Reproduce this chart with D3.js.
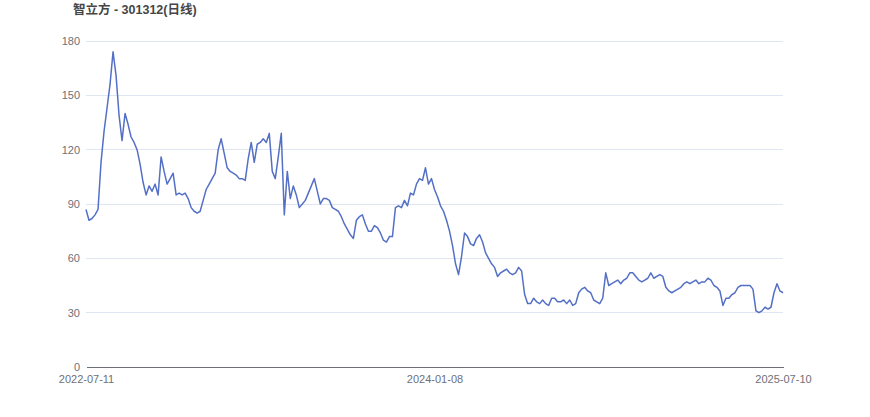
<!DOCTYPE html>
<html>
<head>
<meta charset="utf-8">
<script src="https://cdn.jsdelivr.net/npm/d3@7/dist/d3.min.js"></script>
<style>
  html, body { margin: 0; padding: 0; background: #fff; }
  svg { display: block; }
</style>
</head>
<body>
<svg id="chart" width="870" height="417"></svg>
<script>
const title = "智立方 - 301312(日线)";
const xTickLabels = ["2022-07-11", "2024-01-08", "2025-07-10"];
const yTicks = [0, 30, 60, 90, 120, 150, 180];
const closes = [
  87, 81, 82, 84, 87, 113, 130, 143, 156, 174,
  161, 139, 125, 140, 134, 127, 124, 120, 112, 102,
  95, 100, 97, 101, 95, 116, 108, 101, 104, 107,
  95, 96, 95, 96, 93, 88, 86, 85, 86, 92,
  98, 101, 104, 107, 120, 126, 118, 110, 108, 107,
  106, 104, 104, 103, 115, 124, 113, 123, 124, 126,
  124, 129, 108, 104, 116, 129, 84, 108, 93, 100,
  95, 88, 90, 92, 96, 100, 104, 97, 90, 93,
  93, 92, 88, 87, 86, 83, 79, 76, 73, 71,
  81, 83, 84, 79, 75, 75, 78, 77, 74, 70,
  69, 72, 72, 88, 89, 88, 92, 89, 96, 95,
  101, 104, 103, 110, 101, 104, 98, 94, 89, 86,
  81, 75, 67, 57, 51, 61, 74, 72, 68, 67,
  71, 73, 69, 63, 60, 57, 55, 50, 52, 53,
  54, 52, 51, 52, 55, 53, 40, 35, 35, 38,
  36, 35, 37, 35, 34, 38, 38, 36, 36, 37,
  35, 37, 34, 35, 41, 43, 44, 42, 41, 37,
  36, 35, 38, 52, 45, 46, 47, 48, 46, 48,
  49, 52, 52, 50, 48, 47, 48, 49, 52, 49,
  50, 51, 50, 44, 42, 41, 42, 43, 44, 46,
  47, 46, 47, 48, 46, 47, 47, 49, 48, 45,
  44, 42, 34, 38, 38, 40, 41, 44, 45, 45,
  45, 45, 43, 31, 30, 31, 33, 32, 33, 41,
  46, 42, 41
];

// ---- layout ----
const W = 870, H = 417;
const margin = { left: 86, right: 87, top: 41, bottom: 50 };
const innerW = W - margin.left - margin.right;
const innerH = H - margin.top - margin.bottom;

const svg = d3.select("#chart");
const g = svg.append("g").attr("transform", `translate(${margin.left},${margin.top})`);

const x = d3.scaleLinear().domain([0, closes.length - 1]).range([0, innerW]);
const y = d3.scaleLinear().domain([0, 180]).range([innerH, 0]);

const font = "'Liberation Sans', Arial, 'Noto Sans CJK SC', sans-serif";

// grid lines
g.append("g")
  .selectAll("line")
  .data(yTicks.filter(d => d !== 0))
  .join("line")
  .attr("x1", 0).attr("x2", innerW)
  .attr("y1", d => y(d)).attr("y2", d => y(d))
  .attr("stroke", "#E0E6F1").attr("stroke-width", 1)
  .attr("shape-rendering", "crispEdges");

// y axis (labels only)
const yAxis = d3.axisLeft(y).tickValues(yTicks).tickSize(0).tickPadding(6);
const yg = g.append("g").call(yAxis);
yg.select(".domain").remove();
yg.selectAll("text").attr("fill", "#6E7079").style("font-family", font).style("font-size", "11px");

// x axis
const tickIdx = [0, Math.round((closes.length - 1) / 2), closes.length - 1];
const xAxis = d3.axisBottom(x).tickValues(tickIdx)
  .tickFormat((d, i) => xTickLabels[i]).tickSize(0).tickPadding(8);
const xg = g.append("g").attr("transform", `translate(0,${innerH})`).call(xAxis);
xg.select(".domain").attr("stroke", "#6E7079").attr("shape-rendering", "crispEdges");
xg.selectAll("text").attr("fill", "#6E7079").style("font-family", font).style("font-size", "11px");

// line
const line = d3.line().x((d, i) => x(i)).y(d => y(d));
g.append("path")
  .datum(closes)
  .attr("fill", "none")
  .attr("stroke", "#5470C6")
  .attr("stroke-width", 1.5)
  .attr("stroke-linejoin", "round")
  .attr("d", line);

// title
svg.append("text")
  .attr("x", 73).attr("y", 14)
  .attr("fill", "#464646")
  .style("font-family", font)
  .style("font-size", "12.5px")
  .style("font-weight", "bold")
  .text(title);
</script>
</body>
</html>
